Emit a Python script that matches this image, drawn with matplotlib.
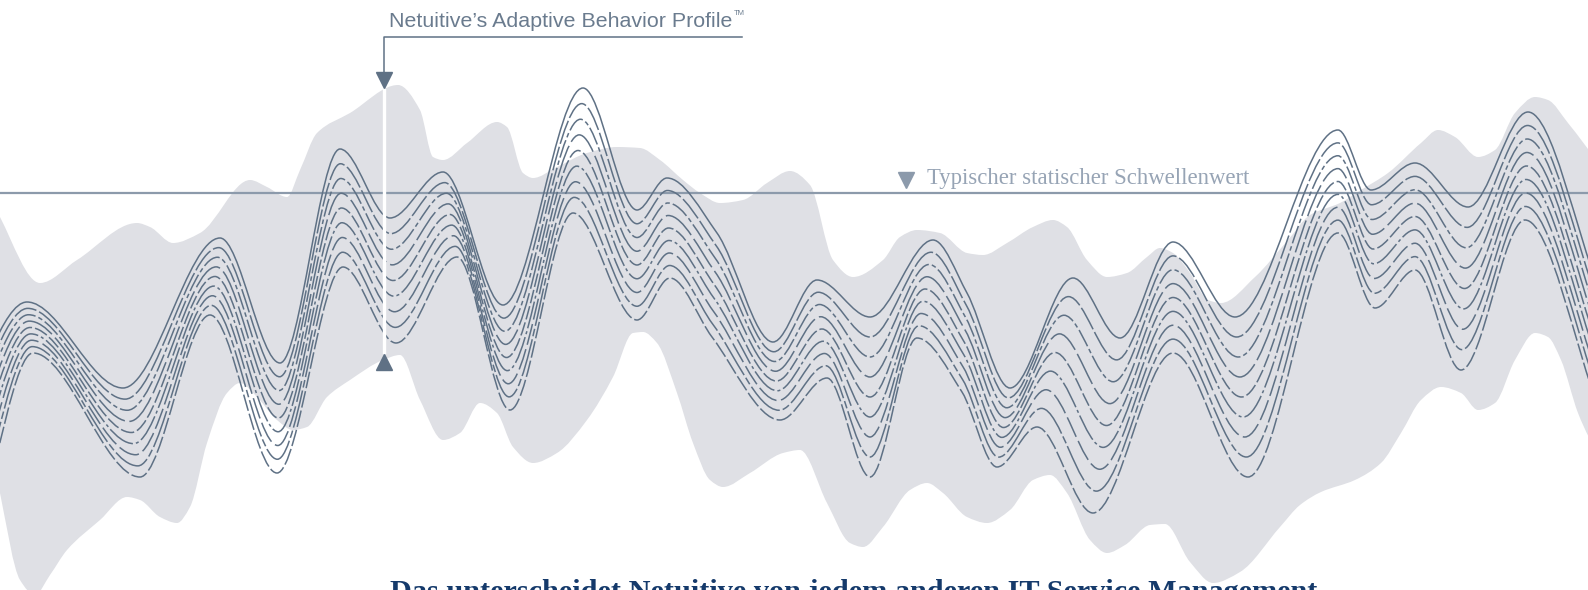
"""Adaptive behavior profile vs. static threshold (decorative wave chart)"""
import numpy as np
import matplotlib
matplotlib.use('Agg')
import matplotlib.pyplot as plt
from matplotlib.path import Path
from matplotlib.patches import PathPatch

# ---------------------------------------------------------------------
# data (picture coordinates, y grows downward)
# ---------------------------------------------------------------------
band_top_x = [-10, 0, 40, 77, 137, 150, 173, 200, 250, 267, 287, 300, 317, 350, 398,
              420, 433, 443, 467, 497, 507, 523, 533, 557, 587, 617, 640, 660, 683,
              700, 720, 743, 767, 790, 810, 833, 853, 883, 900, 917, 940, 967, 983,
              1007, 1033, 1053, 1067, 1087, 1107, 1127, 1147, 1160, 1173, 1190, 1208,
              1221, 1255, 1288, 1310, 1340, 1361, 1388, 1421, 1438, 1455, 1478, 1495,
              1515, 1535, 1548, 1568, 1600]
band_top_y = [195, 217, 283, 260, 223, 227, 243, 233, 180, 187, 197, 170, 133, 113, 85,
              110, 157, 160, 143, 122, 127, 173, 178, 167, 153, 147, 148, 160, 180,
              193, 203, 200, 183, 171, 185, 260, 277, 260, 237, 230, 233, 253, 255,
              243, 227, 220, 227, 260, 277, 273, 257, 248, 253, 273, 300,
              303, 277, 240, 215, 203, 190, 173, 143, 130, 137, 157, 150,
              113, 97, 100, 123, 165]

band_bot_x = [-10, 0, 20, 35, 50, 67, 100, 127, 140, 160, 177, 190, 207, 227, 240, 257,
              277, 293, 307, 327, 350, 383, 400, 420, 443, 460, 480, 497, 513, 533, 557,
              587, 613, 633, 643, 657, 677, 693, 710, 723, 750, 783, 800, 827, 850, 863,
              883, 910, 927, 943, 967, 987, 1010, 1033, 1050, 1067, 1090, 1107, 1125,
              1150, 1165, 1190, 1213, 1240, 1280, 1300, 1321, 1355, 1381, 1401, 1421,
              1441, 1461, 1478, 1495, 1515, 1535, 1548, 1561, 1578, 1600]
band_bot_y = [440, 493, 580, 595, 575, 550, 520, 497, 500, 517, 523, 507, 443, 393, 383, 397,
              420, 430, 427, 397, 380, 360, 355, 400, 440, 433, 403, 413, 447, 463, 453,
              420, 377, 333, 332, 343, 393, 443, 480, 487, 473, 453, 450, 503, 543, 547,
              527, 490, 483, 493, 517, 523, 510, 480, 475, 493, 540, 553, 545,
              525, 524, 562, 583, 572, 527, 505, 492, 480, 463, 433, 400,
              387, 393, 410, 403, 360, 333, 337, 360, 413, 460]

# upper and lower member of the family of nine profile curves
wave_top_x = [-45, 27, 123, 220, 280, 340, 390, 443, 503, 583, 637, 667, 717, 773, 817,
              870, 933, 967, 1010, 1073, 1120, 1173, 1235, 1338, 1371, 1415, 1468, 1528, 1600]
wave_top_y = [430, 302, 388, 238, 363, 149, 218, 172, 305, 88, 210, 178, 233, 342, 280,
              317, 240, 293, 388, 278, 338, 242, 317, 130, 190, 163, 207, 112, 292]
wave_bot_x = [-20, 33, 140, 210, 277, 343, 396, 457, 510, 573, 637, 670, 712, 780, 827,
              870, 917, 962, 997, 1037, 1093, 1173, 1248, 1338, 1375, 1415, 1461, 1525, 1600]
wave_bot_y = [520, 353, 477, 315, 473, 267, 343, 257, 410, 213, 320, 278, 337, 420, 378,
              477, 338, 392, 467, 427, 513, 353, 477, 233, 308, 270, 370, 220, 412]
N_LINES = 9

THRESHOLD = 193
title_profile = "Netuitive\u2019s Adaptive Behavior Profile"
title_tm = "TM"
title_threshold = "Typischer statischer Schwellenwert"
title_bottom = "Das unterscheidet Netuitive von jedem anderen IT Service Management"

# layout
W, H = 1588, 590
PROFILE_X = 384
BAND_C = '#dfe0e5'
WAVE_C = '#5f7185'
THR_C = '#8c9aab'


def smooth_verts(xs, ys):
    """monotone cubic (pchip style) tangents -> cubic bezier vertices"""
    xs = np.asarray(xs, float); ys = np.asarray(ys, float)
    h = np.diff(xs); d = np.diff(ys) / h
    m = np.zeros_like(xs)
    m[0], m[-1] = d[0], d[-1]
    for i in range(1, len(xs) - 1):
        if d[i - 1] * d[i] > 0:
            w1 = 2 * h[i] + h[i - 1]; w2 = h[i] + 2 * h[i - 1]
            m[i] = (w1 + w2) / (w1 / d[i - 1] + w2 / d[i])
    verts = [(xs[0], ys[0])]
    for i in range(len(xs) - 1):
        verts += [(xs[i] + h[i] / 3, ys[i] + m[i] * h[i] / 3),
                  (xs[i + 1] - h[i] / 3, ys[i + 1] - m[i + 1] * h[i] / 3),
                  (xs[i + 1], ys[i + 1])]
    return verts


def curve_codes(n):
    return [Path.MOVETO] + [Path.CURVE4] * (n - 1)


fig = plt.figure(figsize=(W / 100, H / 100), dpi=100)
ax = fig.add_axes([0, 0, 1, 1])
ax.set_xlim(0, W)
ax.set_ylim(H, 0)
ax.axis('off')

# grey band
up = smooth_verts(band_top_x, band_top_y)
lo = smooth_verts(band_bot_x, band_bot_y)[::-1]
verts = up + lo + [up[0]]
codes = curve_codes(len(up)) + [Path.LINETO] + [Path.CURVE4] * (len(lo) - 1) + [Path.CLOSEPOLY]
ax.add_patch(PathPatch(Path(verts, codes), facecolor=BAND_C, edgecolor='none', zorder=1))

# static threshold
ax.axhline(THRESHOLD, color=THR_C, lw=1.6, zorder=2)
ax.plot([906], [THRESHOLD - 13], marker='v', ms=11, color=THR_C, zorder=5)
ax.text(927, THRESHOLD - 9, title_threshold, family='Liberation Serif', fontsize=16.4,
        color='#97a4b5', va='baseline', ha='left', zorder=5)

# family of profile curves
styles = ['-', (0, (16, 2)), (0, (12, 2, 3, 2)), (0, (22, 3)), (0, (9, 2)),
          (0, (18, 2, 2, 2)), (0, (14, 3)), (0, (25, 2, 5, 2)), (0, (11, 2))]
tx, ty = np.array(wave_top_x, float), np.array(wave_top_y, float)
bx, by = np.array(wave_bot_x, float), np.array(wave_bot_y, float)
for k in range(N_LINES):
    f = k / (N_LINES - 1)
    v = smooth_verts(tx + f * (bx - tx), ty + f * (by - ty))
    ax.add_patch(PathPatch(Path(v, curve_codes(len(v))), fill=False, edgecolor=WAVE_C,
                           lw=1.1, linestyle=styles[k], capstyle='butt', zorder=3))

# profile marker
ax.plot([PROFILE_X, PROFILE_X], [90, 352], color='white', lw=2.4, zorder=4)
ax.plot([742, PROFILE_X, PROFILE_X], [37, 37, 76], color=WAVE_C, lw=1.1, zorder=5)
ax.plot([PROFILE_X], [80], marker='v', ms=12, color=WAVE_C, zorder=5)
ax.plot([PROFILE_X], [362], marker='^', ms=12, color=WAVE_C, zorder=5)
t = ax.text(389, 27, title_profile, family='Liberation Sans', fontsize=15.4,
            color='#6a7b8e', va='baseline', ha='left', zorder=5)
fig.canvas.draw()
bb = t.get_window_extent().transformed(ax.transData.inverted())
ax.text(bb.x1 + 1, 15, title_tm, family='Liberation Sans', fontsize=5.5,
        color='#6a7b8e', va='baseline', ha='left', zorder=5)

ax.text(390, 579, title_bottom, family='Liberation Serif', fontweight='bold',
        fontsize=21.8, color='#153a6b', va='top', ha='left', zorder=5)

plt.savefig('out.png', dpi=100, facecolor='white')
plt.close()
